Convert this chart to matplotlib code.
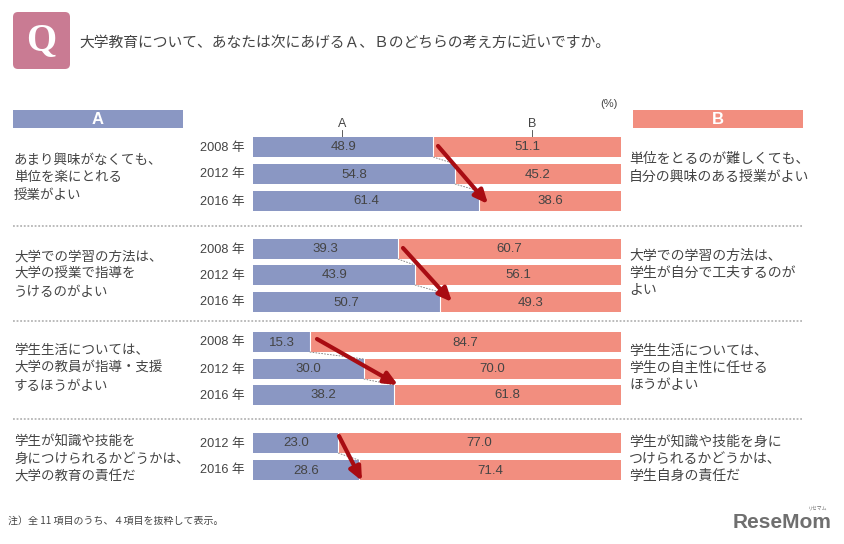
import matplotlib
matplotlib.use('Agg')
import matplotlib.pyplot as plt
from matplotlib.patches import FancyBboxPatch, Rectangle

plt.rcParams['font.family'] = ['Noto Sans CJK JP', 'DejaVu Sans']

# data
years = [['2008 年', '2012 年', '2016 年'],
         ['2008 年', '2012 年', '2016 年'],
         ['2008 年', '2012 年', '2016 年'],
         ['2012 年', '2016 年']]
valuesA = [[48.9, 54.8, 61.4],
           [39.3, 43.9, 50.7],
           [15.3, 30.0, 38.2],
           [23.0, 28.6]]
valuesB = [[51.1, 45.2, 38.6],
           [60.7, 56.1, 49.3],
           [84.7, 70.0, 61.8],
           [77.0, 71.4]]
textA = ['あまり興味がなくても、\n単位を楽にとれる\n授業がよい',
         '大学での学習の方法は、\n大学の授業で指導を\nうけるのがよい',
         '学生生活については、\n大学の教員が指導・支援\nするほうがよい',
         '学生が知識や技能を\n身につけられるかどうかは、\n大学の教育の責任だ']
textB = ['単位をとるのが難しくても、\n自分の興味のある授業がよい',
         '大学での学習の方法は、\n学生が自分で工夫するのが\nよい',
         '学生生活については、\n学生の自主性に任せる\nほうがよい',
         '学生が知識や技能を身に\nつけられるかどうかは、\n学生自身の責任だ']
question = '大学教育について、あなたは次にあげるＡ、Ｂのどちらの考え方に近いですか。'
note = '注）全 11 項目のうち、４項目を抜粋して表示。'

# layout in pixels
W, H = 844, 544
rowY = [[147, 174, 201], [249, 275, 302], [342, 369, 395], [443, 470]]
textAY = [177, 274, 368, 459]
textBY = [168, 273, 368, 459]
sepY = [226, 321, 419]
arrows = [((438, 146), (488, 204)), ((403, 248), (452, 302)),
          ((317, 339), (398, 385)), ((339, 436), (362, 481))]
barH = 20
blue = '#8a97c3'
salmon = '#f28e7f'
dark = '#444444'
numFont = ['Liberation Sans', 'Noto Sans CJK JP']

fig = plt.figure(figsize=(W / 100, H / 100), dpi=100)

# overlay in pixel coords for everything that is not a bar
over = fig.add_axes([0, 0, 1, 1])
over.set_xlim(0, W)
over.set_ylim(H, 0)
over.axis('off')

# bars use a 0-100 scale across the bar span
ax = fig.add_axes([253.5 / W, 0, 367.5 / W, 1])
ax.set_xlim(0, 100)
ax.set_ylim(H, 0)
ax.axis('off')
ax.patch.set_alpha(0)

over.add_patch(FancyBboxPatch((13, 12), 57, 57, boxstyle='round,pad=0,rounding_size=5',
                              fc='#c97b93', ec='none'))
over.text(41, 41, 'Q', color='white', fontsize=28, fontweight='bold', family='Liberation Serif',
          ha='center', va='center')
over.text(79, 43, question, fontsize=10.65, color=dark, va='center')

over.add_patch(Rectangle((13, 110), 170, 18, fc=blue, ec='none'))
over.add_patch(Rectangle((633, 110), 170, 18, fc=salmon, ec='none'))
over.text(98, 119, 'A', color='white', fontsize=12, fontweight='bold', family='Liberation Sans',
          ha='center', va='center')
over.text(718, 119, 'B', color='white', fontsize=12, fontweight='bold', family='Liberation Sans',
          ha='center', va='center')
over.text(600, 104, '(%)', fontsize=8, color=dark, va='center', family='Liberation Sans')
over.text(342, 124, 'A', fontsize=9, color=dark, ha='center', va='center', family='Liberation Sans')
over.text(532, 124, 'B', fontsize=9, color=dark, ha='center', va='center', family='Liberation Sans')
over.plot([342, 342], [130, 137], color=dark, lw=0.6)
over.plot([532, 532], [130, 137], color=dark, lw=0.6)

for i in range(len(valuesA)):
    ys = rowY[i]
    ax.barh(ys, valuesA[i], height=barH, color=blue, edgecolor='none')
    ax.barh(ys, valuesB[i], height=barH, left=valuesA[i], color=salmon, edgecolor='none')
    for j in range(len(ys)):
        a, b = valuesA[i][j], valuesB[i][j]
        ax.text(a / 2, ys[j] + 0.5, '%.1f' % a, ha='center', va='center', fontsize=9.5, color=dark,
                family='Liberation Sans')
        ax.text(a + b / 2, ys[j] + 0.5, '%.1f' % b, ha='center', va='center', fontsize=9.5, color=dark,
                family='Liberation Sans')
        ax.plot([a, a], [ys[j] - barH / 2, ys[j] + barH / 2], color='white', lw=0.8)
        over.text(245, ys[j] + 0.5, years[i][j], ha='right', va='center', fontsize=9.2, color=dark,
                  family=numFont)
        # dashed connector between neighbouring bars
        if j + 1 < len(ys):
            ax.plot([a, valuesA[i][j + 1]], [ys[j] + barH / 2, ys[j + 1] - barH / 2],
                    color='#777777', lw=0.6, ls=(0, (2, 1.5)))
    over.text(14, textAY[i], textA[i], fontsize=9.7, color=dark, va='center', linespacing=1.32)
    over.text(629, textBY[i], textB[i], fontsize=10, color=dark, va='center', linespacing=1.28)
    ax.annotate('', xy=arrows[i][1], xytext=arrows[i][0], xycoords=over.transData,
                textcoords=over.transData, zorder=5,
                arrowprops=dict(arrowstyle='-|>,head_width=0.36,head_length=0.8', color='#a80c12', lw=3,
                                shrinkA=0, shrinkB=0))

for y in sepY:
    over.plot([13, 802], [y, y], color='#b5b5b5', lw=1.3, ls=(0, (1, 1)))

over.text(8, 521, note, fontsize=7.2, color=dark, va='center')
over.text(733, 523, 'ReseMom', fontsize=15, fontweight='bold', color='#6f6f6f', va='center',
          family='Liberation Sans')
over.text(818, 508, 'リセマム', fontsize=3.5, color='#6f6f6f', ha='center', va='center')

fig.savefig('out.png', dpi=100)
